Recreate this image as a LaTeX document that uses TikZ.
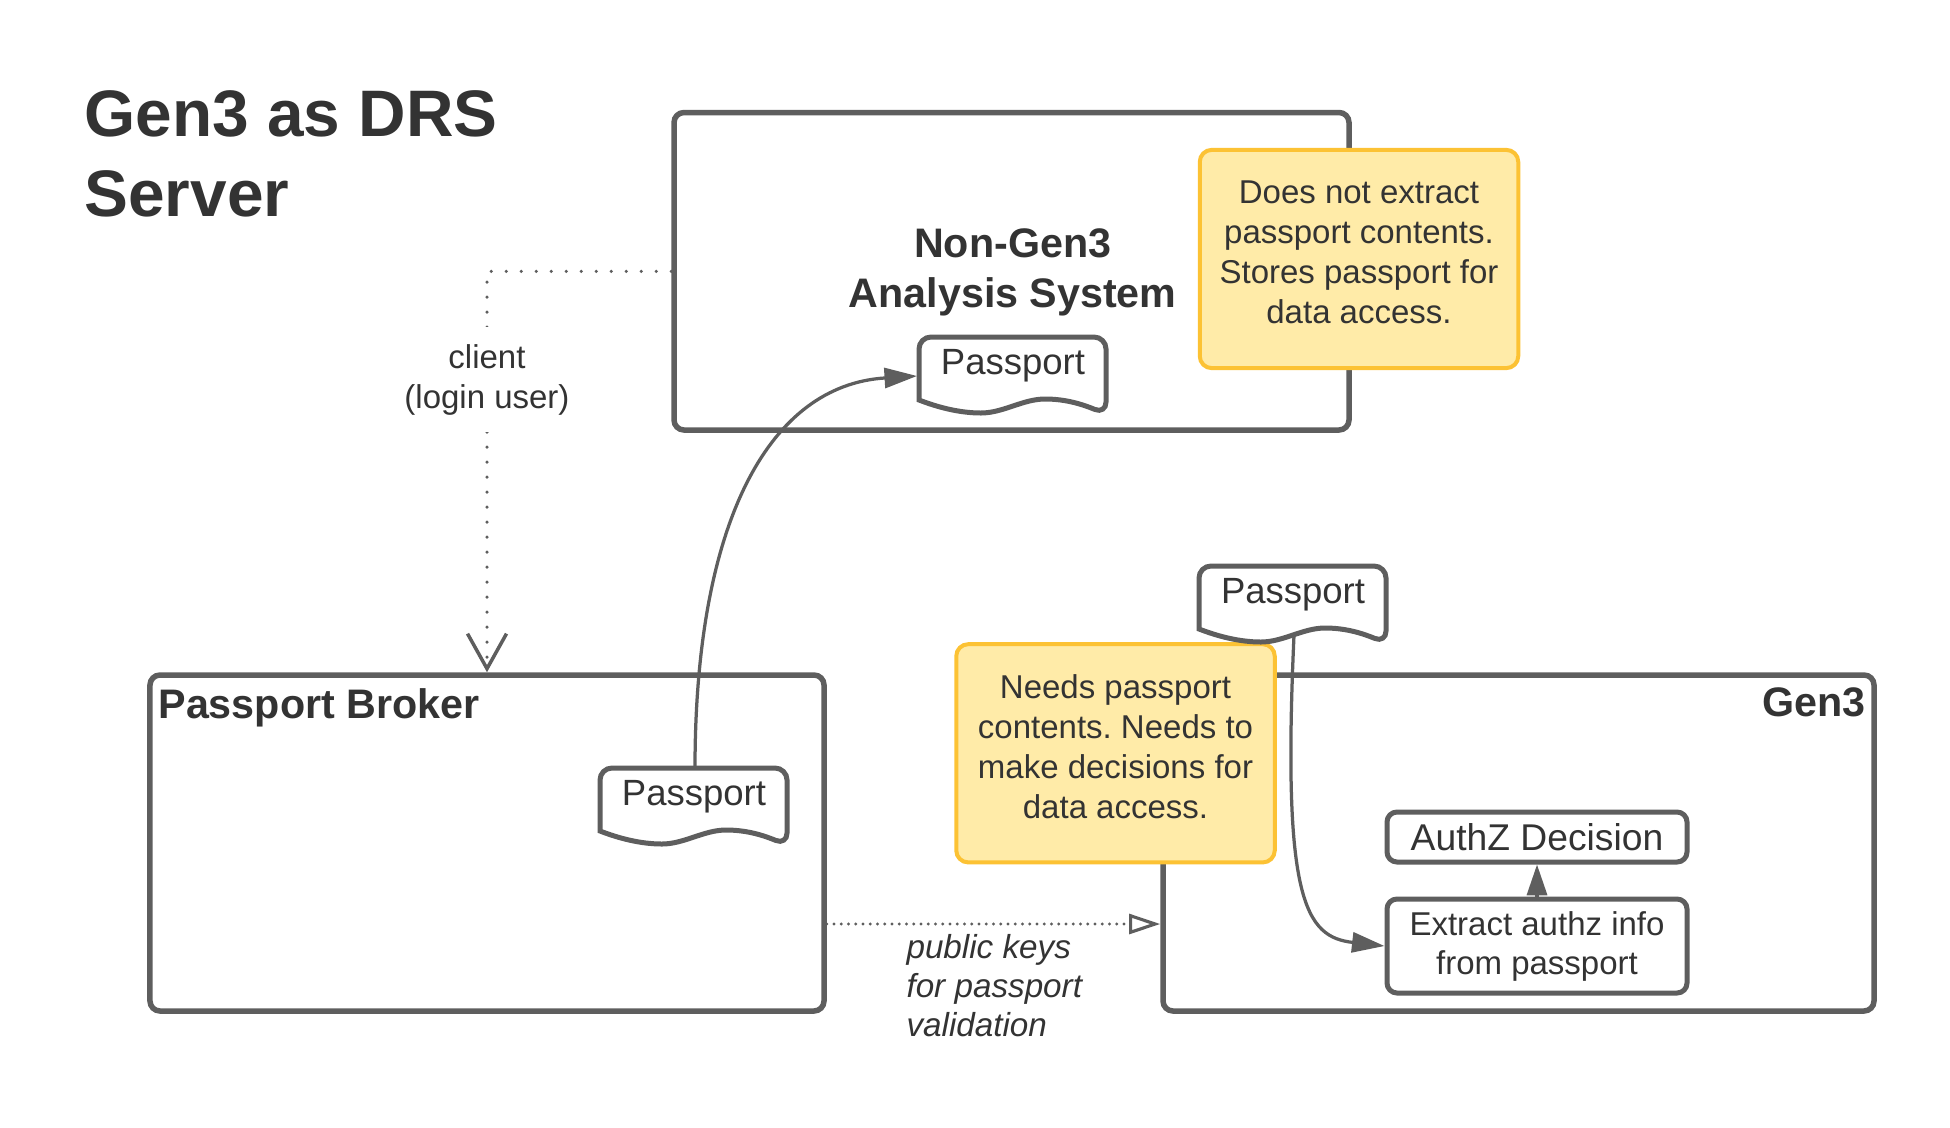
\documentclass[tikz,border=0pt]{standalone}
\usepackage{fontspec}
\setmainfont{Liberation Sans}
\usetikzlibrary{arrows.meta}
\definecolor{lg}{HTML}{5E5E5E}
\definecolor{tx}{HTML}{333333}
\definecolor{yf}{HTML}{FFEBA8}
\definecolor{yb}{HTML}{FCC234}
\frenchspacing
% passport document shape: #1 x, #2 y (top-left), #3 name
\newcommand{\passdoc}[3]{%
  \draw[passline] (#1,#2+63) [rounded corners=4.8pt] -- (#1,#2) -- (#1+187,#2) -- (#1+187,#2+77) [sharp corners]
    .. controls (#1+165,#2+68) and (#1+148,#2+62) .. (#1+126,#2+62)
    .. controls (#1+104,#2+62) and (#1+84,#2+76) .. (#1+62,#2+76)
    .. controls (#1+40,#2+76) and (#1+18,#2+70) .. (#1,#2+63) -- cycle;
  \node[passtext, anchor=base] (#3) at (#1+94,#2+37) {Passport};
}
\begin{document}
\begin{tikzpicture}[x=0.4pt,y=-0.4pt,
  sysbox/.style={draw=lg, line width=2.2pt, rounded corners=4pt, fill=white, inner sep=0pt},
  note/.style={draw=yb, fill=yf, line width=1.6pt, rounded corners=4.8pt, text=tx, align=center,
    font=\fontsize{13.2pt}{16pt}\selectfont, minimum width=127.4pt, minimum height=87.3pt,
    inner sep=0pt, text depth=5.6pt},
  headf/.style={font=\fontsize{16.5pt}{20pt}\selectfont\bfseries, text=tx, inner sep=0pt},
  passline/.style={draw=lg, line width=2pt, fill=white},
  passtext/.style={font=\fontsize{14.6pt}{17pt}\selectfont, text=tx, inner sep=0pt},
  smallbox/.style={draw=lg, line width=2pt, rounded corners=4pt, fill=white, text=tx,
    minimum width=120pt, inner sep=0pt, align=center},
  conn/.style={draw=lg, line width=1.3pt},
  tipfill/.style={-{Triangle[length=13pt,width=8pt]}},
  dotc/.style={draw=lg, line width=1.4pt, line cap=round, dash pattern=on 0pt off 6pt},
  dotk/.style={draw=lg, line width=1.25pt, line cap=round, dash pattern=on 0pt off 2.9pt},
  lblf/.style={font=\fontsize{13.2pt}{16pt}\selectfont, text=tx},
]
\useasboundingbox (0,0) rectangle (1950,1127);

% title
\node[font=\fontsize{26.3pt}{32pt}\selectfont\bfseries, text=tx, anchor=west, inner sep=0pt, align=left]
  (title) at (84,153.7) {Gen3 as DRS\\Server};

% system boxes
\node[sysbox, minimum width=270pt, minimum height=127pt] (ng) at (1011.5,271.25) {};
\node[sysbox, minimum width=269.6pt, minimum height=134.4pt] (broker) at (487,843) {};
\node[sysbox, minimum width=284.4pt, minimum height=134.4pt] (gen3) at (1518.5,843) {};

\node[headf, align=center] (nglab) at (1012.7,271.9) {Non-Gen3\\Analysis System};
\node[headf, anchor=base west] (brlab) at (158,718.3) {Passport Broker};
\node[headf, anchor=base east] (g3lab) at (1866,716.7) {Gen3};

% notes
\node[note] (note1) at (1359,259) {Does not extract\\passport contents.\\Stores passport for\\data access.};
\node[note] (note2) at (1115.5,753.3) {Needs passport\\contents. Needs to\\make decisions for\\data access.};

% connectors
\draw[dotc, -{Straight Barb[length=14pt,width=15.6pt]}] (ng.west) -| node[pos=0.635, fill=white, inner sep=6.9pt, lblf, align=center] (cl) {client\\(login user)} (broker.north);

\draw[dotk, -{Triangle[open,length=12.5pt,width=8pt]}] ([yshift=-32.4pt]broker.east) -- ([yshift=-32.4pt]gen3.west);
\node[font=\fontsize{13.3pt}{15.7pt}\selectfont\itshape, text=tx, anchor=west, align=left, inner sep=0pt]
  (pk) at (906,985.7) {public keys\\for passport\\validation};

% small boxes in Gen3
\node[smallbox, minimum height=20pt, font=\fontsize{14.9pt}{18pt}\selectfont] (az) at (1537,837) {AuthZ Decision};
\node[smallbox, minimum height=37.6pt, font=\fontsize{13.2pt}{15.6pt}\selectfont] (ex) at (1537,946) {Extract authz info\\from passport};
\draw[conn, -{Triangle[length=12.3pt,width=8pt]}] (ex.north) -- (az.south);

% passport anchor points and curves
\coordinate (pT-left) at (917,376);
\coordinate (pB-top) at (695,768);
\coordinate (pG-bot) at (1294,635);
\draw[conn, tipfill] (pB-top) .. controls (695,520) and (770,385) .. (pT-left);
\draw[conn, tipfill] (pG-bot) .. controls (1282,900) and (1305,937) .. (ex.west);

% passports
\passdoc{919}{337}{pT}
\passdoc{600}{768}{pB}
\passdoc{1199}{566}{pG}
\end{tikzpicture}
\end{document}
